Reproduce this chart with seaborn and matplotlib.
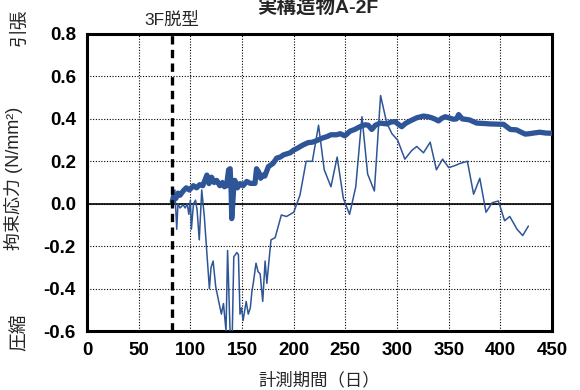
import matplotlib
matplotlib.use("Agg")
import matplotlib.pyplot as plt
import seaborn as sns
import pandas as pd

# ---- data ----
days_thick = [82.5, 84, 86, 88, 90, 93, 96, 99, 103, 106, 109, 112, 114, 116, 118, 120.5,
              123, 125.5, 128.5, 131, 133, 135, 137, 138.5, 139.5, 140, 141, 142, 143, 145.5,
              148, 151, 154.5, 158, 162.5, 164, 166, 168, 170, 172, 175.5, 180, 183.5, 187,
              190, 196.5, 200, 203, 209, 214, 218, 222, 228, 232, 236, 241.5, 245, 249.5,
              254.5, 259, 264, 269, 272, 275.5, 279, 283.5, 290, 294, 298, 301, 304.5, 308,
              312.5, 316, 319, 325.5, 330, 333.5, 337, 340, 343, 346.5, 350, 354.5, 357.5,
              359.5, 363, 370, 377, 384, 390, 397, 403, 409.5, 415.5, 420, 424, 428, 432,
              438, 444, 450]
stress_thick = [0.01, 0.04, 0.025, 0.05, 0.04, 0.06, 0.075, 0.065, 0.085, 0.075, 0.09, 0.085,
                0.11, 0.135, 0.095, 0.125, 0.1, 0.11, 0.085, 0.1, 0.08, 0.085, 0.16, 0.165,
                0.05, -0.07, 0.0, 0.08, 0.11, 0.075, 0.095, 0.085, 0.105, 0.096, 0.096, 0.165,
                0.15, 0.12, 0.135, 0.13, 0.175, 0.19, 0.215, 0.22, 0.23, 0.24, 0.253, 0.26,
                0.277, 0.288, 0.29, 0.297, 0.31, 0.316, 0.325, 0.325, 0.33, 0.32, 0.342, 0.35,
                0.363, 0.372, 0.37, 0.35, 0.37, 0.38, 0.376, 0.385, 0.387, 0.375, 0.363, 0.378,
                0.39, 0.398, 0.405, 0.413, 0.41, 0.405, 0.398, 0.39, 0.402, 0.41, 0.405, 0.398,
                0.4, 0.42, 0.4, 0.395, 0.38, 0.378, 0.376, 0.375, 0.374, 0.35, 0.348, 0.337,
                0.328, 0.33, 0.333, 0.337, 0.333, 0.332]

days_thin = [83, 85, 86.8, 88, 90, 93, 95, 97, 98.5, 100, 101, 103, 105, 106.5, 108.6, 111,
             113.5, 116.5, 118.4, 120, 122, 124.5, 127, 130, 132, 134.5, 136, 138.4, 140.5,
             142, 145, 146.5, 148, 149.5, 151, 154, 156, 158, 159.5, 161, 163.5, 165.5, 167.5,
             170, 172.3, 174, 176.4, 178, 182, 188, 193, 200, 206, 212, 218, 224, 229.5, 236,
             242, 248, 254, 260, 266, 271.5, 278, 284, 290, 295, 300.5, 307.5, 314, 319,
             325.5, 332, 338, 344, 350, 356, 361, 368, 374, 380, 386, 392, 398, 404, 409, 416,
             421.5, 427]
stress_thin = [0.02, 0.065, -0.12, 0.0, -0.02, -0.005, -0.02, 0.0, -0.05, 0.017, -0.12, 0.0,
               0.017, -0.03, -0.17, 0.065, -0.06, -0.27, -0.40, -0.30, -0.27, -0.39, -0.45,
               -0.52, -0.47, -0.60, -0.22, -0.60, -0.62, -0.25, -0.23, -0.24, -0.52, -0.49,
               -0.55, -0.46, -0.52, -0.49, -0.415, -0.37, -0.28, -0.32, -0.33, -0.46, -0.27,
               -0.375, -0.25, -0.17, -0.16, -0.053, -0.06, -0.04, 0.04, 0.2, 0.2, 0.37, 0.16,
               0.08, 0.22, 0.025, -0.05, 0.08, 0.41, 0.14, 0.06, 0.51, 0.38, 0.33, 0.30, 0.21,
               0.25, 0.27, 0.24, 0.29, 0.16, 0.21, 0.17, 0.18, 0.19, 0.20, 0.045, 0.12, -0.04,
               0.005, 0.013, -0.08, -0.06, -0.12, -0.15, -0.105]

x_ticks = [0, 50, 100, 150, 200, 250, 300, 350, 400, 450]
y_ticks = [-0.6, -0.4, -0.2, 0.0, 0.2, 0.4, 0.6, 0.8]
demold_day = 82

title = "実構造物A-2F"
xlabel = "計測期間（日）"
ylabel = "拘束応力 (N/mm²)"
demold_label = "3F脱型"

# ---- style ----
sns.set_theme(style="white")
plt.rcParams['font.family'] = ['Liberation Sans', 'Noto Sans CJK JP', 'DejaVu Sans']

color = "#2E5597"

fig = plt.figure(figsize=(5.8, 3.9), dpi=100)
ax = fig.add_axes([0.15, 0.151, 0.802, 0.762])

df_thick = pd.DataFrame({"day": days_thick, "stress": stress_thick})
df_thin = pd.DataFrame({"day": days_thin, "stress": stress_thin})

sns.lineplot(data=df_thin, x="day", y="stress", ax=ax, color=color, lw=1.1,
             estimator=None, sort=False, zorder=3)
sns.lineplot(data=df_thick, x="day", y="stress", ax=ax, color=color, lw=3.8,
             estimator=None, sort=False, zorder=4, solid_joinstyle='round')

ax.set_xlim(0, 450)
ax.set_ylim(-0.6, 0.8)
ax.set_xticks(x_ticks)
ax.set_yticks(y_ticks)
ax.set_xticklabels([str(t) for t in x_ticks], fontweight='bold', fontsize=13.5)
ax.set_yticklabels([f"{t:.1f}" for t in y_ticks], fontweight='bold', fontsize=13.5)
ax.tick_params(axis='both', length=0, pad=8, colors='black')

ax.grid(True, color='black', linestyle=(0, (1, 1.5)), linewidth=0.8)
ax.axhline(0, color='black', lw=1.2, zorder=2)
ax.axvline(demold_day, color='black', lw=2.4, linestyle=(0, (2.5, 1.6)), zorder=5)

for s in ax.spines.values():
    s.set_color('black')
    s.set_linewidth(2.2)

ax.set_xlabel(xlabel, fontsize=12.5, labelpad=9)
ax.set_ylabel(ylabel, fontsize=13)
ax.yaxis.set_label_coords(-0.138, 0.515)

fig.text(318/580, 1 - 13/390, title, ha='center', va='baseline',
         fontsize=14, fontweight='bold')
ax.text(demold_day, 0.83, demold_label, ha='center', va='bottom', fontsize=12.5,
        transform=ax.transData)
fig.text(20/580, 1 - 27/390, "引張", rotation=90, ha='center', va='center', fontsize=13.5)
fig.text(20/580, 1 - 332/390, "圧縮", rotation=90, ha='center', va='center', fontsize=13.5)

fig.savefig("out.png", dpi=100)
